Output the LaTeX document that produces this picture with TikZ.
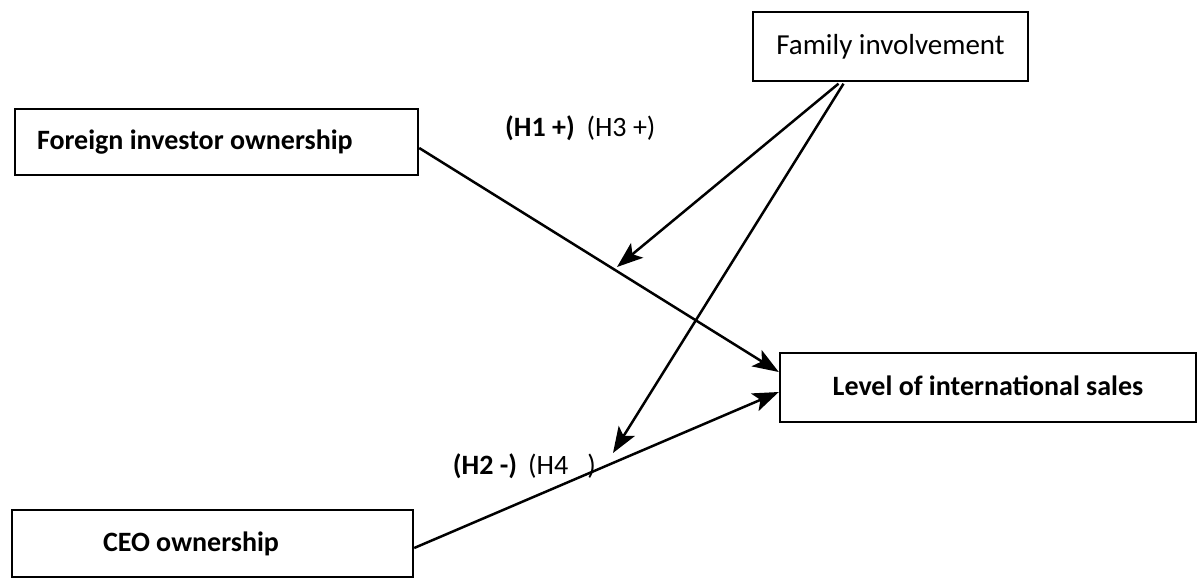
\documentclass[tikz,border=0pt]{standalone}
\usepackage{fontspec}
\setmainfont{Carlito}
\usetikzlibrary{arrows.meta}
\begin{document}
\begin{tikzpicture}[x=1pt,y=-1pt,
  every node/.style={font=\fontsize{28}{32}\selectfont},
  box/.style={draw,line width=2.4pt,rectangle,inner sep=0pt},
  lab/.style={inner sep=0pt},
  arr/.style={line width=2.5pt,-{Stealth[length=26pt,width=19pt,inset=6pt]}}]
\useasboundingbox (0,0) rectangle (1203,578);
\node[box,minimum width=403pt,minimum height=66pt] (fio) at (216.5,142) {\makebox[359pt][l]{\bfseries Foreign investor ownership}};
\node[box,minimum width=275pt,minimum height=69pt,font=\fontsize{29}{33}\selectfont] (fam) at (890.5,46.5) {\raisebox{5pt}{Family involvement}};
\node[box,minimum width=416pt,minimum height=69pt] (lis) at (988,387.5) {\raisebox{4pt}{\bfseries Level of international sales}};
\node[box,minimum width=401pt,minimum height=67pt] (ceo) at (212.5,543.5) {\raisebox{3pt}{\makebox[219pt][l]{\bfseries CEO ownership}}};
\coordinate (m1) at (617,267);
\coordinate (m2) at (613,453);
\draw[arr] ([yshift=-6pt]fio.east) -- ([yshift=15.5pt]lis.west);
\draw[arr] ([yshift=-4.5pt]ceo.east) -- ([yshift=-4.5pt]lis.west);
\draw[arr] ([xshift=-52pt,yshift=-1.5pt]fam.south) -- (m1);
\draw[arr] ([xshift=-47pt,yshift=-1.5pt]fam.south) -- (m2);
\node[lab] (h1) at (540,128) {\bfseries (H1 +)};
\node[lab] (h3) at (621,128) {(H3 +)};
\node[lab] (h2) at (485,466) {\bfseries (H2 -)};
\node[lab] (h4) at (562,466) {(H4 \ \ )};
\end{tikzpicture}
\end{document}
